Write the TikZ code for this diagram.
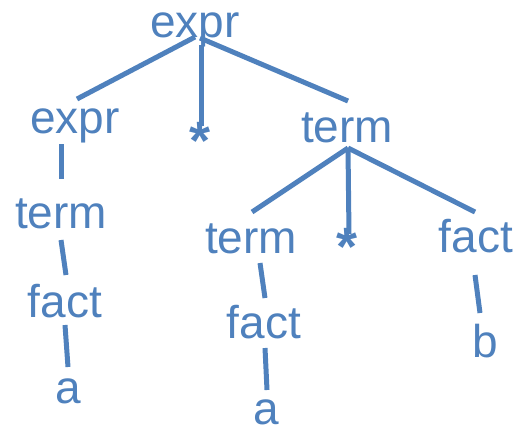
\documentclass[tikz,border=0pt]{standalone}
\usepackage{fontspec}
\setmainfont{Liberation Sans}
\usepackage{xcolor}
\usepackage{tikz}
\usetikzlibrary{calc}

\definecolor{treeblue}{RGB}{79,129,189}

\tikzset{
  sym/.style={anchor=base, inner sep=0pt, text=treeblue,
    font=\fontsize{46}{50}\selectfont},
  starsym/.style={sym, font=\fontsize{54}{60}\selectfont\bfseries},
  edge/.style={draw=treeblue, line width=5pt}
}

\begin{document}
\begin{tikzpicture}[x=1pt,y=-1pt]
  \useasboundingbox (0,0) rectangle (519,431);

  % Top levels
  \node[sym] (root) at (195,37) {expr};
  \node[sym] (e1) at (75,133) {expr};
  \node[starsym] (s1) at (200,159) {*};
  \node[sym] (t1) at (347,142) {term};

  % Left branch
  \node[sym] (tm2) at (61,228) {term};
  \node[sym] (f2) at (65,317) {fact};
  \node[sym] (a2) at (68,403) {a};

  % Right branch
  \node[sym] (tm3) at (251,253) {term};
  \node[starsym] (s3) at (347,265) {*};
  \node[sym] (f4) at (476,252) {fact};
  \node[sym] (f3) at (264,338) {fact};
  \node[sym] (a3) at (266,424) {a};
  \node[sym] (b4) at (485,357) {b};

  % Edges: parent/offset -- child/offset
  \foreach \p/\px/\py/\c/\cx/\cy in {
      root/0/0/e1/2/-34, root/6/8/s1/1/-33, root/5/1/t1/1/-41,
      e1/-14/11/tm2/0/-49, tm2/0/12/f2/1/-42, f2/0/8/a2/0/-36,
      t1/1/6/tm3/1/-41, t1/1/6/s3/2/-31, t1/1/6/f4/-1/-40,
      tm3/9/10/f3/1/-40, f3/1/10/a3/1/-34, f4/-1/23/b4/-5/-44} {
    \draw[edge] ($(\p.base)+(\px,\py)$) -- ($(\c.base)+(\cx,\cy)$);
  }
\end{tikzpicture}
\end{document}
